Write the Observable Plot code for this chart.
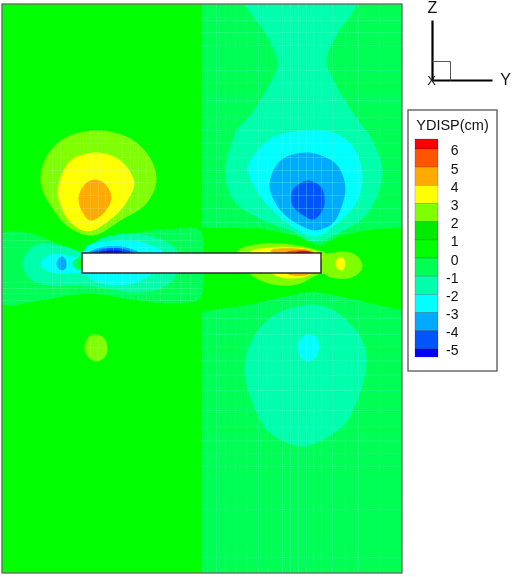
<!DOCTYPE html>
<html>
<head>
<meta charset="utf-8">
<script src="https://cdn.jsdelivr.net/npm/d3@7"></script>
<script src="https://cdn.jsdelivr.net/npm/@observablehq/plot@0.6"></script>
<style>
html,body{margin:0;padding:0;background:#fff}
svg{display:block;filter:blur(0.4px)}
</style>
</head>
<body>
<div id="chart"></div>
<script>
// legend
const legendTitle = "YDISP(cm)";
const levels = [6,5,4,3,2,1,0,-1,-2,-3,-4,-5];
// each band is named by its lower level
const bands = [6,5,4,3,2,1,0,-1,-2,-3,-4,-5,-6];
const bandColors = ["#ff0000","#ff5500","#ffaa00","#ffff00","#80ff00","#00ea00","#00ff00","#00ff55","#00ffaa","#00ffff","#00aaff","#0055ff","#0000ff"];

// contour regions: [band, points]
const rightTopZone = [-1, [[201,0],[402,0],[402,227],[370,229],[340,235],[318,246],[295,235],[260,228],[201,227]]];
const rightBottomZone = [-1, [[201,311],[245,305],[290,295],[313,291],[340,296],[402,310],[402,574],[201,574]]];

const leftWingZone = [-1, [[0,235],[25,232],[60,244],[83,251],[120,237],[150,230],[180,228],[197,228],[201,232],[201,296],[197,300],[170,303],[130,299],[87,293],[40,300],[0,302]]];
const leftUpperLime = [2, [[97,130],[130,138],[150,158],[156,180],[146,203],[120,220],[93,235],[70,228],[52,208],[40,182],[45,158],[65,137]]];
const leftUpperSmall = [2, [[93,334],[103,337],[107,348],[104,357],[96,361],[88,357],[84,348],[87,338]]];

const wingLeft = [
  [-2, [[22,263],[28,250],[40,243],[67,247],[83,251],[100,238],[133,233],[167,242],[180,256],[177,272],[163,287],[133,292],[105,288],[83,285],[50,285],[30,279]]],
  [-3, [[40,263],[46,256],[57,253],[80,256],[87,245],[127,240],[143,242],[157,248],[167,256],[160,268],[150,275],[133,283],[100,283],[80,273],[57,273],[46,270]]],
  [-4, [[56,263],[59,257],[62,256],[65,259],[66,263],[65,268],[62,270],[58,268]]],
  [-1, [[72,263],[76,258],[83,256],[88,262],[86,270],[80,270],[75,268]]],
  [0, [[79,263],[82,258],[88,262],[86,269],[82,268]]],
  [-4, [[85,254],[100,247],[120,246],[135,250],[145,256],[120,258],[90,258]]],
  [-5, [[88,254],[100,249],[120,248],[132,252],[120,256],[92,256]]],
  [-6, [[92,254],[105,250.5],[120,250.5],[128,253],[110,255]]],
  [-4, [[92,272],[115,271],[135,272],[125,277],[108,278],[98,276]]],
  [-3, [[92,270],[140,270],[143,272],[125,281],[105,281],[95,276]]]
];
const rightLobes = [
  [-2, [[235,-15],[248,10],[263,30],[277,60],[275,72],[248,117],[237,128],[225,173],[233,200],[257,217],[290,230],[316,241],[343,230],[367,213],[382,173],[372,140],[353,113],[333,80],[326,60],[337,33],[353,10],[366,-15]]],
  [-3, [[250,160],[272,137],[303,130],[333,132],[353,147],[362,173],[357,200],[340,220],[315,236],[293,227],[263,200],[248,173]]],
  [-4, [[280,160],[269,185],[280,210],[300,225],[315,230],[333,222],[343,200],[345,185],[335,163],[307,152]]],
  [-5, [[307,180],[292,190],[292,205],[303,215],[313,219],[322,210],[324,197],[320,186]]],
  [-2, [[313,304],[283,310],[263,323],[248,347],[244,370],[250,397],[260,420],[270,433],[300,446],[317,442],[340,428],[347,420],[362,385],[366,360],[362,340],[343,317],[327,307]]],
  [-3, [[308,334],[300,338],[297,347],[300,357],[307,361],[316,356],[319,347],[316,337]]]
];
const rightWing = [
  [2, [[237,251],[263,243],[297,245],[322,251],[327,253],[343,251],[356,255],[362,265],[358,273],[347,278],[330,277],[322,273],[297,284],[273,284],[250,274]]],
  [3, [[250,251],[270,247],[297,247],[318,252],[322,256],[310,274],[290,278],[273,274],[262,262]]],
  [4, [[270,250],[297,248],[314,252],[312,258],[280,258]]],
  [5, [[285,252],[300,249.5],[312,252],[300,256]]],
  [6, [[295,252],[305,250.5],[311,252.5],[304,255]]],
  [4, [[285,272],[312,272],[305,275],[292,275]]],
  [3, [[337,258],[342,257],[345,263],[342,270],[337,268],[335,263]]]
];
const leftLobes = [
  [3, [[97,152],[120,160],[134,182],[127,200],[117,213],[88,231],[70,222],[60,205],[57,190],[70,160]]],
  [4, [[95,179],[105,184],[111,197],[103,213],[90,220],[82,212],[78,197],[85,183]]]
];
const bar = {x1:82, x2:321, y1:253, y2:273};

// mesh lines seen in the picture
const meshYTop = [17,20,32,45,70,83,100,117,130,143,157,170,182,195,208,222,233,240,247,282,288,293,300,318,334,347,360,375,390,410,427,440,453,466,509,557];
const meshXRight = [207,216,225,235,247,258,267,282,290,298,306,313,321,332,345,358,379];
const meshXLeft = [25,35,43,52,60,67,75,83,90,98,105,113,122,130,138,146,153,160,167,173,180,185,190,195];

// triad
const triadLines = [[432,20,432,80],[432,80,492,80]];
const triadBox = [[432,61,450,61],[450,61,450,80]];
const triadLabels = [["Z",432,7,16],["Y",505,79,16],["X",431,80,13]];

// build rows
let nextId = 0;
const rows = (list) => list.flatMap(([band, pts]) => { const id = nextId++; return pts.map(([x,y]) => ({x,y,band,id})); });
const smoothBase = rows([leftWingZone]);
const linearBase = rows([rightTopZone, rightBottomZone]);
const smoothAll = rows([leftUpperLime, leftUpperSmall, ...leftLobes, ...wingLeft, ...rightLobes, ...rightWing]);
const clipRight = linearBase;
const clipLeft = rows([leftWingZone, leftUpperLime, leftUpperSmall]);

const asClip = (id) => (index, scales, values, dimensions, context, next) => {
  const g = next(index, scales, values, dimensions, context);
  const c = document.createElementNS("http://www.w3.org/2000/svg","clipPath");
  c.setAttribute("id", id);
  g.querySelectorAll("path").forEach(p => c.appendChild(p));
  return c;
};
const clipped = (id) => (index, scales, values, dimensions, context, next) => {
  const g = next(index, scales, values, dimensions, context);
  const w = document.createElementNS("http://www.w3.org/2000/svg","g");
  w.setAttribute("clip-path", `url(#${id})`);
  w.appendChild(g);
  return w;
};
const meshRight = {stroke:"#70ffe0", strokeOpacity:0.26, strokeWidth:1};
const meshLeft = {stroke:"#c0ffe0", strokeOpacity:0.16, strokeWidth:1};
const meshMarks = (xs, x1, x2, id, style) => [
  Plot.ruleX(xs, {x:d=>d, y1:4, y2:573, ...style, render:clipped(id)}),
  Plot.ruleY(meshYTop, {y:d=>d, x1, x2, ...style, render:clipped(id)})
];

// legend geometry
const legY = (i) => 149 + 18.17 * i;
const legendCells = bands.map((b,i) => ({band:b, y1: i===0 ? 139 : legY(i-1), y2: i===bands.length-1 ? 357 : legY(i)}));
const font = "'Liberation Sans', Arial, sans-serif";

const plot = Plot.plot({
  width:512, height:577,
  marginLeft:2, marginRight:110, marginTop:4, marginBottom:4,
  x:{domain:[2,402], range:[2,402], axis:null},
  y:{domain:[4,573], range:[4,573], axis:null},
  color:{type:"ordinal", domain:bands, range:bandColors},
  style:{background:"#fff", fontFamily:font},
  marks:[
    Plot.rect([0],{x1:2,x2:402,y1:4,y2:573,fill:()=>0,clip:true}),
    Plot.line(linearBase,{x:"x",y:"y",z:"id",fill:"band",stroke:"none",curve:"linear-closed",clip:true}),
    Plot.line(smoothBase,{x:"x",y:"y",z:"id",fill:"band",stroke:"none",curve:"catmull-rom-closed",clip:true}),
    Plot.line(smoothAll,{x:"x",y:"y",z:"id",fill:"band",stroke:"none",curve:"catmull-rom-closed",clip:true}),
    Plot.line(clipRight,{x:"x",y:"y",z:"id",fill:"#000",stroke:"none",curve:"linear-closed",render:asClip("mesh-right")}),
    Plot.line(clipLeft,{x:"x",y:"y",z:"id",fill:"#000",stroke:"none",curve:"catmull-rom-closed",render:asClip("mesh-left")}),
    ...meshMarks(meshXRight,201,402,"mesh-right",meshRight),
    ...meshMarks(meshXLeft,2,201,"mesh-left",meshLeft),
    Plot.rect([bar],{x1:"x1",x2:"x2",y1:"y1",y2:"y2",fill:"#fff",stroke:"#222",strokeWidth:1.4}),
    Plot.rect([0],{x1:2,x2:402,y1:4,y2:573,fill:"none",stroke:"#666",strokeWidth:1.3}),
    // triad
    Plot.link(triadLines,{x1:d=>d[0],y1:d=>d[1],x2:d=>d[2],y2:d=>d[3],stroke:"#000",strokeWidth:2.2}),
    Plot.link(triadBox,{x1:d=>d[0],y1:d=>d[1],x2:d=>d[2],y2:d=>d[3],stroke:"#555",strokeWidth:1}),
    Plot.text(triadLabels,{x:d=>d[1],y:d=>d[2],text:d=>d[0],fontSize:d=>d[3],fill:"#111",fontFamily:font}),
    // legend
    Plot.rect([0],{x1:408,x2:497,y1:110,y2:371,fill:"#fff",stroke:"#555",strokeWidth:1.3}),
    Plot.text([legendTitle],{x:452,y:124.5,text:d=>d,fontSize:14.5,fill:"#111",fontFamily:font}),
    Plot.rect(legendCells,{x1:415,x2:438,y1:"y1",y2:"y2",fill:"band",stroke:"#000",strokeOpacity:0.25,strokeWidth:0.7}),
    Plot.text(levels,{x:458,y:(d,i)=>legY(i)+1.5,text:d=>String(d),textAnchor:"end",fontSize:14,fill:"#111",fontFamily:font})
  ]
});
document.getElementById("chart").appendChild(plot);
</script>
</body>
</html>
